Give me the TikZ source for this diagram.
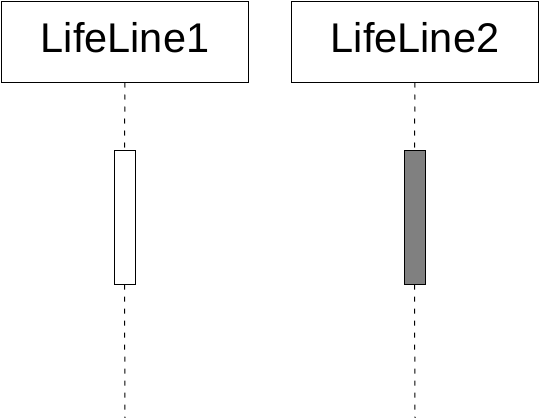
\documentclass[tikz,border=0pt]{standalone}
\usepackage{fontspec}
\setmainfont{Liberation Sans}
\usetikzlibrary{positioning}

\begin{document}
\begin{tikzpicture}[x=1pt, y=-1pt]
	\tikzset{lifeHead/.style={draw=black, fill=white, line width=1pt, minimum width=247pt, minimum height=81pt, inner sep=0pt, text depth=8.5pt, font=\fontsize{41.5}{41.5}\selectfont}}
	\tikzset{activation/.style={draw=black, line width=1pt, minimum width=21pt, minimum height=134pt, inner sep=0pt}}
	\tikzset{lifeLine/.style={draw=black, line width=1pt, dash pattern=on 5pt off 7pt}}
		\useasboundingbox (0,0) rectangle (544,418);
		\foreach \name/\x/\tag in {ll1/125/LifeLine1, ll2/415/LifeLine2} {\node[lifeHead] (\name) at (\x,41.5) {\tag};}
		\foreach \name/\x in {end1/125, end2/415} {\coordinate (\name) at (\x,418);}
		\node[activation, fill=white] (act1) at (124.5,217) {};
		\node[activation, fill=gray] (act2) at (414.5,217) {};
		\draw[lifeLine] (ll1.south) -- (act1.north);
		\draw[lifeLine] (act1.south) -- (end1);
		\draw[lifeLine] (ll2.south) -- (act2.north);
		\draw[lifeLine] (act2.south) -- (end2);
	\end{tikzpicture}
\end{document}
